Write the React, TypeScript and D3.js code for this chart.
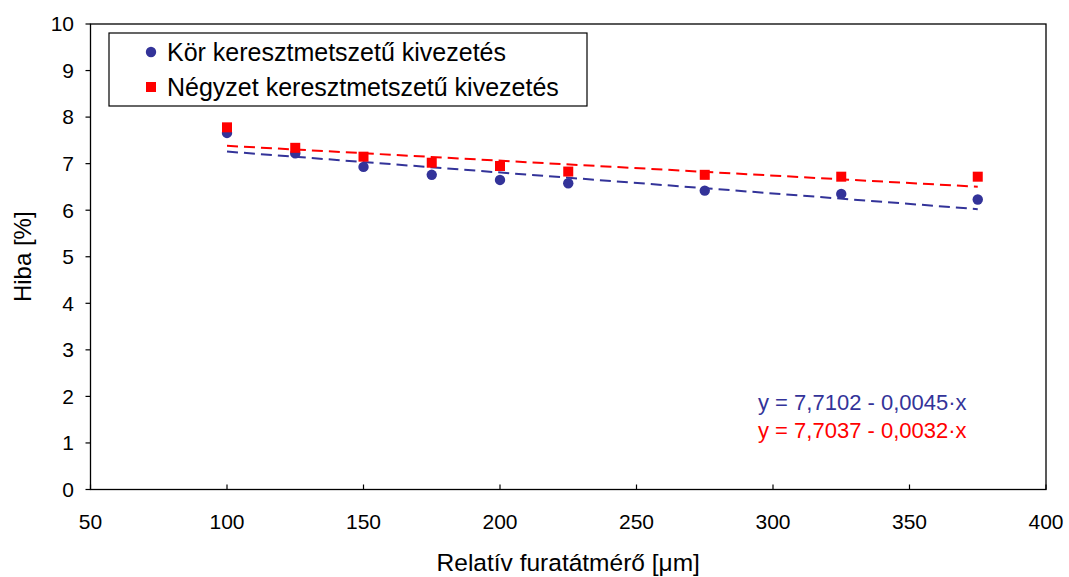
import React from "react";
import * as d3 from "d3";

const xValues = [100, 125, 150, 175, 200, 225, 275, 325, 375];
const korValues = [7.66, 7.22, 6.93, 6.76, 6.65, 6.58, 6.42, 6.35, 6.23];
const negyzetValues = [7.78, 7.34, 7.15, 7.02, 6.95, 6.83, 6.76, 6.72, 6.72];
const korTrend = [7.7102, -0.0045];
const negyzetTrend = [7.7037, -0.0032];
const xTicks = [50, 100, 150, 200, 250, 300, 350, 400];
const yTicks = [0, 1, 2, 3, 4, 5, 6, 7, 8, 9, 10];
const seriesNames = ["Kör keresztmetszetű kivezetés", "Négyzet keresztmetszetű kivezetés"];
const equations = ["y = 7,7102 - 0,0045·x", "y = 7,7037 - 0,0032·x"];

const W = 1069;
const H = 577;
const BLUE = "#333399";
const RED = "#FF0000";
const FONT = "Liberation Sans, Arial, sans-serif";

export default function App() {
  const x = d3.scaleLinear().domain([50, 400]).range([90.5, 1046]);
  const y = d3.scaleLinear().domain([0, 10]).range([489.5, 24]);
  const xMin = d3.min(xValues) as number;
  const xMax = d3.max(xValues) as number;
  const trendLine = (c: number[]) =>
    d3
      .line<number>()
      .x((d) => x(d))
      .y((d) => y(c[0] + c[1] * d))([xMin, xMax]) as string;

  return (
    <svg
      width={W}
      height={H}
      style={{ position: "absolute", left: 0, top: 0, background: "#fff" }}
      fontFamily={FONT}
    >
      <rect x={0} y={0} width={W} height={H} fill="#fff" />
      {/* frame */}
      <rect
        x={x(50)}
        y={y(10)}
        width={x(400) - x(50)}
        height={y(0) - y(10)}
        fill="none"
        stroke="#000"
        strokeWidth={1.3}
      />
      {/* y ticks */}
      {yTicks.map((t) => (
        <g key={"y" + t}>
          <line x1={x(50) - 5} x2={x(50)} y1={y(t)} y2={y(t)} stroke="#000" strokeWidth={1.2} />
          <text x={74} y={y(t)} dy="0.35em" textAnchor="end" fontSize={21}>
            {t}
          </text>
        </g>
      ))}
      {/* x ticks */}
      {xTicks.map((t) => (
        <g key={"x" + t}>
          <line x1={x(t)} x2={x(t)} y1={y(0)} y2={y(0) - 5} stroke="#000" strokeWidth={1.2} />
          <text x={x(t)} y={529} textAnchor="middle" fontSize={21}>
            {t}
          </text>
        </g>
      ))}
      {/* axis titles */}
      <text x={(x(50) + x(400)) / 2} y={571} textAnchor="middle" fontSize={24.5}>
        Relatív furatátmérő [μm]
      </text>
      <text
        transform={`translate(31,${(y(0) + y(10)) / 2}) rotate(-90)`}
        textAnchor="middle"
        fontSize={24}
      >
        Hiba [%]
      </text>
      {/* trend lines */}
      <path d={trendLine(korTrend)} fill="none" stroke={BLUE} strokeWidth={2} strokeDasharray="11,6" />
      <path d={trendLine(negyzetTrend)} fill="none" stroke={RED} strokeWidth={2} strokeDasharray="11,6" />
      {/* points */}
      {xValues.map((v, i) => (
        <circle key={"c" + i} cx={x(v)} cy={y(korValues[i])} r={5.2} fill={BLUE} />
      ))}
      {xValues.map((v, i) => (
        <rect
          key={"s" + i}
          x={x(v) - 5}
          y={y(negyzetValues[i]) - 5}
          width={10}
          height={10}
          fill={RED}
        />
      ))}
      {/* legend */}
      <rect x={109} y={33} width={478} height={73} fill="#fff" stroke="#000" strokeWidth={1.2} />
      <circle cx={151} cy={52} r={5.2} fill={BLUE} />
      <text x={167} y={52} dy="0.35em" fontSize={25}>
        {seriesNames[0]}
      </text>
      <rect x={146} y={82} width={10} height={10} fill={RED} />
      <text x={167} y={87} dy="0.35em" fontSize={25}>
        {seriesNames[1]}
      </text>
      {/* equations */}
      <text x={758} y={402} dy="0.35em" fontSize={22} fill={BLUE}>
        {equations[0]}
      </text>
      <text x={758} y={430} dy="0.35em" fontSize={22} fill={RED}>
        {equations[1]}
      </text>
    </svg>
  );
}
